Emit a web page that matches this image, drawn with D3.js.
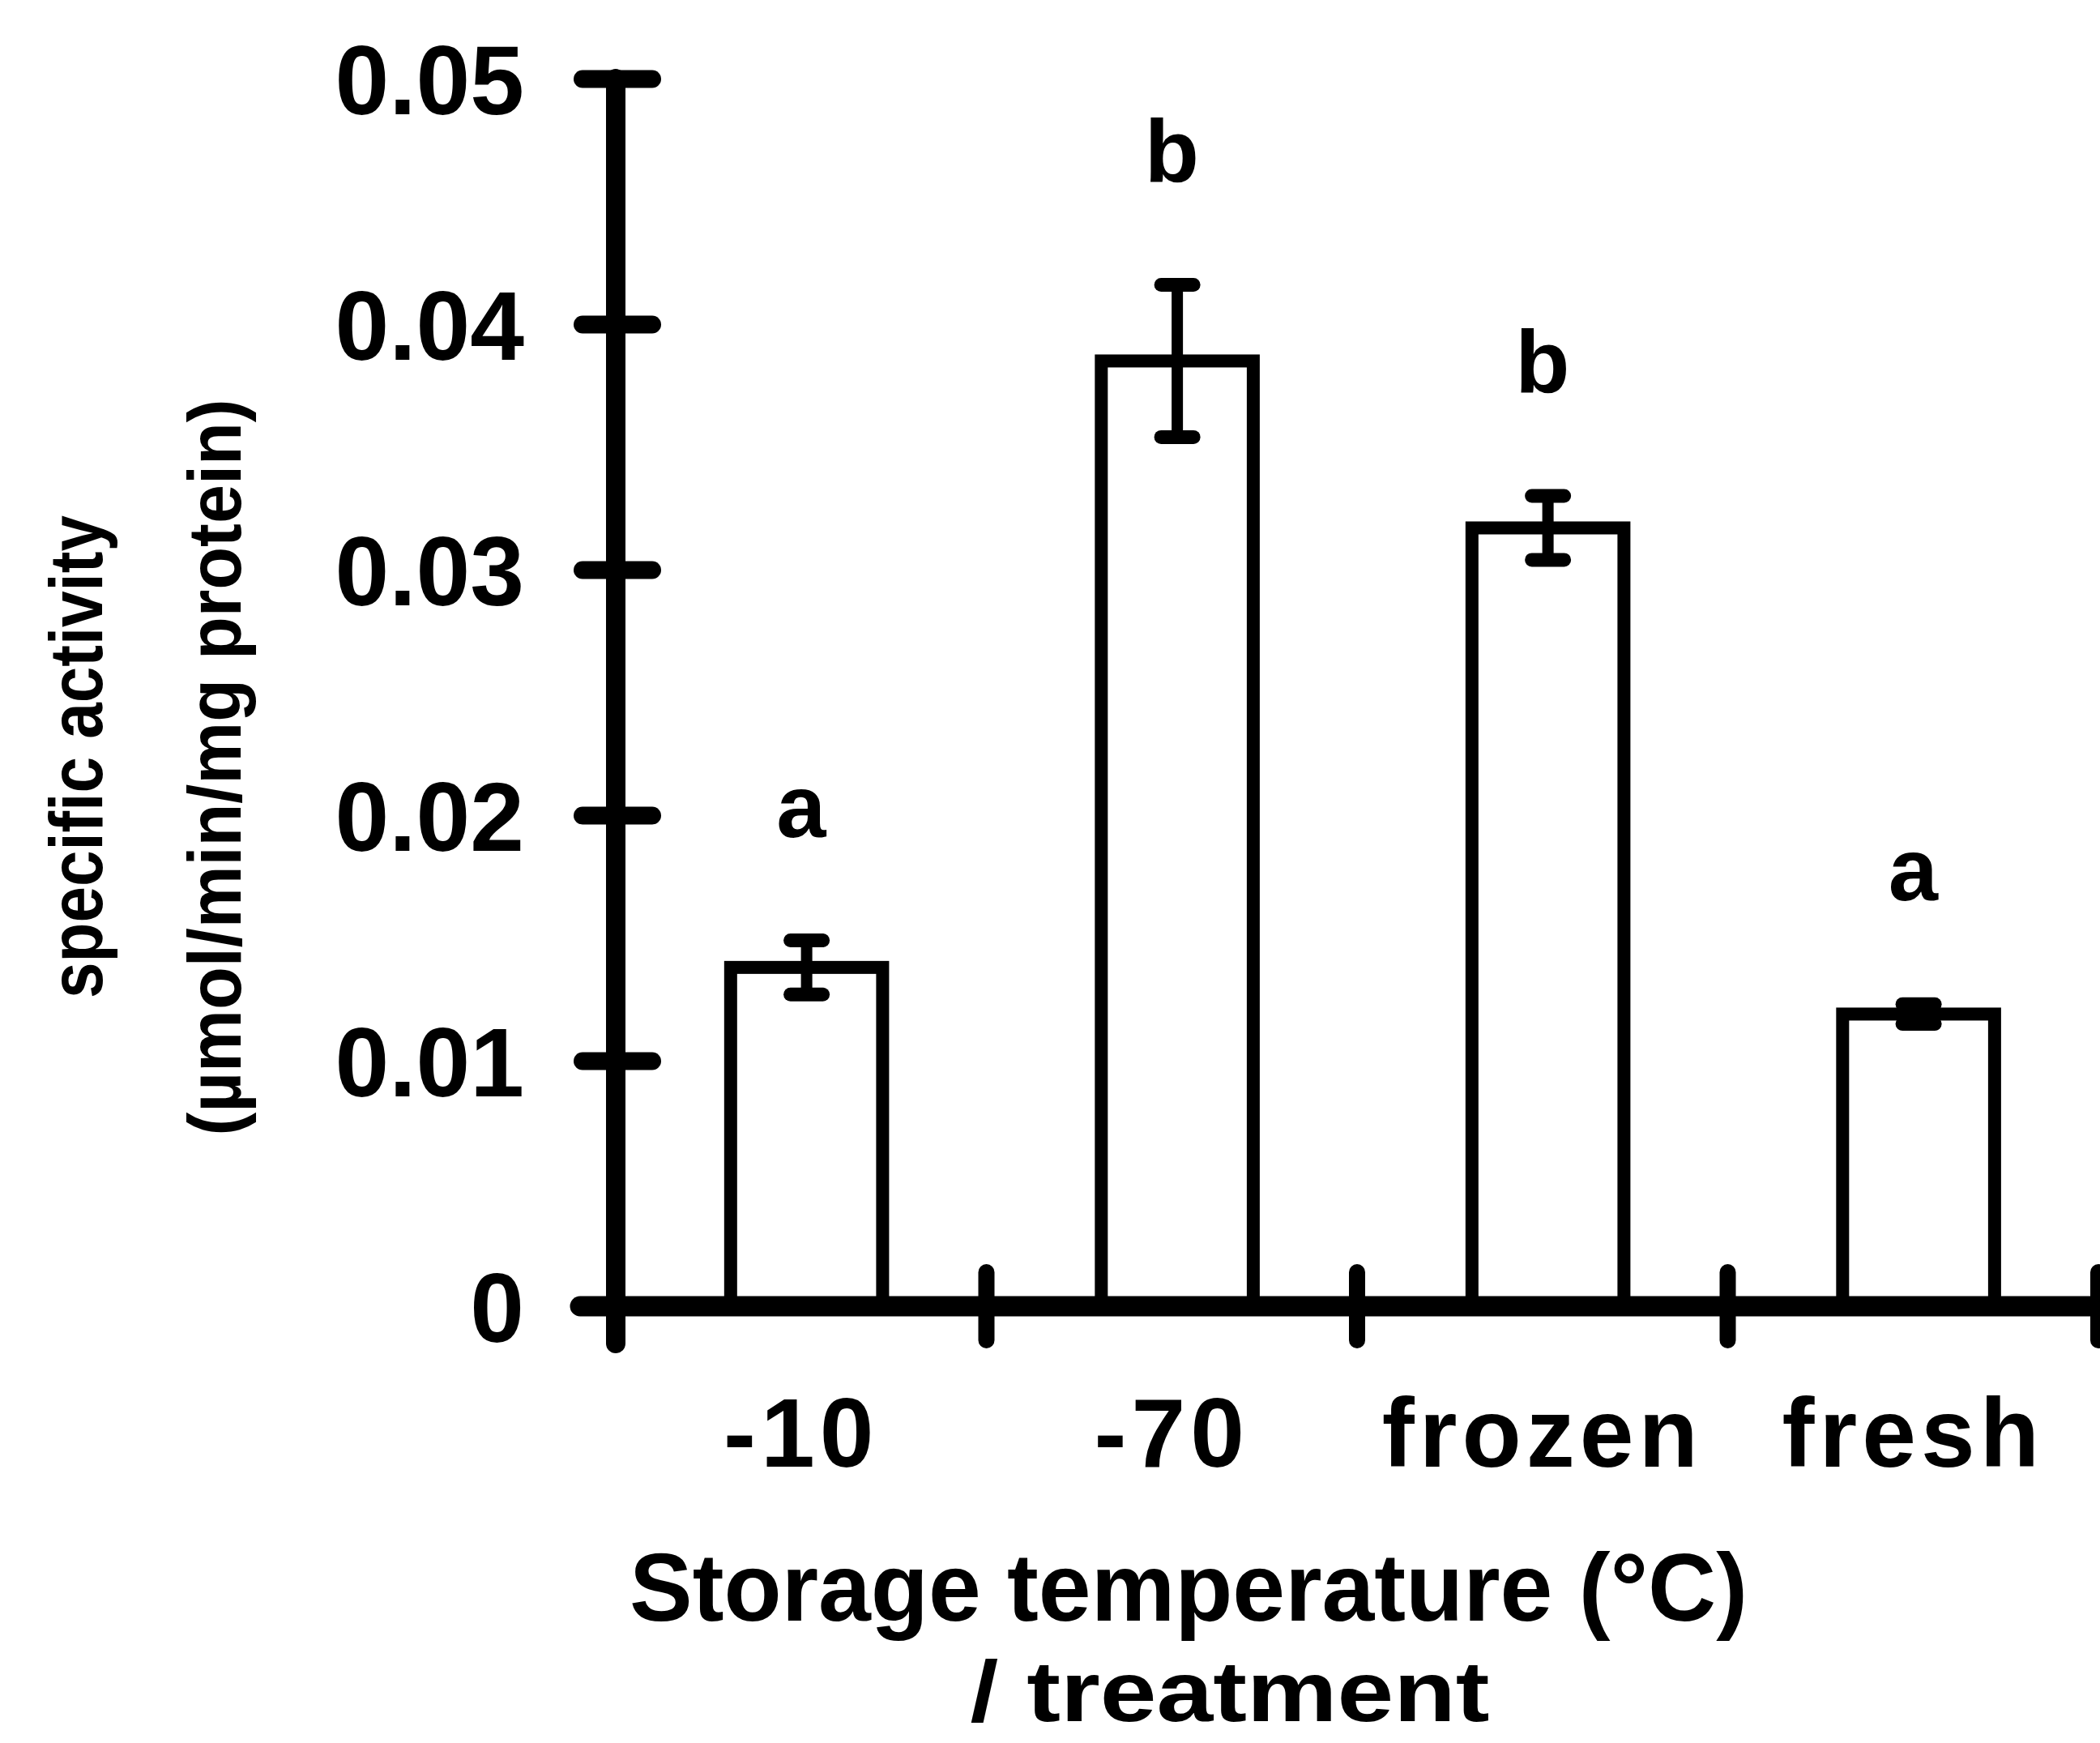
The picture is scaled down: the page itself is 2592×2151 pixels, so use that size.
<!DOCTYPE html>
<html>
<head>
<meta charset="utf-8">
<script src="https://cdn.jsdelivr.net/npm/d3@7"></script>
<style>
  html, body { margin: 0; padding: 0; background: #fff; }
  svg { display: block; }
  text { font-family: "Liberation Sans", Arial, Helvetica, sans-serif; fill: #000; }
</style>
</head>
<body>
<svg id="chart" width="2592" height="2151"></svg>
<script>
// Specific activity by storage temperature / treatment (mean ± SE)
const categories = ["-10", "-70", "frozen", "fresh"];
const activity = [0.0138, 0.0385, 0.0317, 0.0119];
const stdError = [0.0011, 0.0031, 0.0013, 0.0004];
const groupLetters = ["a", "b", "b", "a"];
const yTickValues = [0, 0.01, 0.02, 0.03, 0.04, 0.05];
const yTickLabels = ["0", "0.01", "0.02", "0.03", "0.04", "0.05"];

const svg = d3.select("#chart");
svg.append("rect").attr("width", 2592).attr("height", 2151).attr("fill", "#fff");

const x = d3.scaleBand().domain(categories).range([760, 2590]).padding(0);
const y = d3.scaleLinear().domain([0, 0.05]).range([1612, 97]);
const bw = x.bandwidth();
const barW = bw * 0.41;
const barCx = c => x(c) + bw * 0.515;

const rows = categories.map((c, i) => ({ c, v: activity[i], e: stdError[i], g: groupLetters[i] }));

// bars (open, heavy outline)
svg.append("g").selectAll("rect").data(rows).join("rect")
  .attr("x", d => barCx(d.c) - barW / 2)
  .attr("y", d => y(d.v))
  .attr("width", barW)
  .attr("height", d => y(0) - y(d.v))
  .attr("fill", "#fff")
  .attr("stroke", "#000")
  .attr("stroke-width", 16);

// error bars
const eb = svg.append("g").attr("stroke", "#000").attr("stroke-linecap", "round");
eb.selectAll("line.stem").data(rows).join("line").attr("class", "stem")
  .attr("x1", d => barCx(d.c)).attr("x2", d => barCx(d.c))
  .attr("y1", d => y(d.v + d.e)).attr("y2", d => y(d.v - d.e))
  .attr("stroke-width", 14);
eb.selectAll("line.capTop").data(rows).join("line").attr("class", "capTop")
  .attr("x1", d => barCx(d.c) - 20).attr("x2", d => barCx(d.c) + 20)
  .attr("y1", d => y(d.v + d.e)).attr("y2", d => y(d.v + d.e))
  .attr("stroke-width", 17);
eb.selectAll("line.capBot").data(rows).join("line").attr("class", "capBot")
  .attr("x1", d => barCx(d.c) - 20).attr("x2", d => barCx(d.c) + 20)
  .attr("y1", d => y(d.v - d.e)).attr("y2", d => y(d.v - d.e))
  .attr("stroke-width", 17);

// significance letters
svg.append("g").selectAll("text").data(rows).join("text")
  .attr("x", d => x(d.c) + bw / 2)
  .attr("y", d => y(d.v + d.e) - 128)
  .attr("text-anchor", "middle")
  .attr("font-size", 110)
  .attr("font-weight", "bold")
  .text(d => d.g);

// y axis
const yAxis = d3.axisLeft(y).tickValues(yTickValues)
  .tickFormat((d, i) => yTickLabels[i]).tickSize(0).tickPadding(0);
const gy = svg.append("g").attr("transform", `translate(${x.range()[0]},0)`).call(yAxis);
gy.select(".domain").remove();
gy.selectAll(".tick line")
  .attr("x1", -41).attr("x2", 45)
  .attr("stroke", "#000").attr("stroke-width", 22).attr("stroke-linecap", "round");
gy.selectAll(".tick text")
  .attr("x", -113).attr("dy", "0.36em")
  .attr("font-size", 120).attr("font-weight", "bold")
  .attr("font-family", null).attr("fill", "#000");
gy.append("line")
  .attr("x1", 0).attr("x2", 0)
  .attr("y1", y(0.05)).attr("y2", y(0) + 46)
  .attr("stroke", "#000").attr("stroke-width", 24).attr("stroke-linecap", "round");

// x axis
const xAxis = d3.axisBottom(x).tickSize(0).tickPadding(0);
const gx = svg.append("g").attr("transform", `translate(0,${y(0)})`).call(xAxis);
gx.select(".domain").remove();
gx.selectAll(".tick line").remove();
gx.selectAll(".tick text")
  .attr("y", 198).attr("dy", 0)
  .attr("font-size", 120).attr("font-weight", "bold")
  .attr("font-family", null).attr("fill", "#000")
  .attr("letter-spacing", 6);
gx.append("line")
  .attr("x1", x.range()[0] - 44).attr("x2", 2600)
  .attr("y1", 0).attr("y2", 0)
  .attr("stroke", "#000").attr("stroke-width", 25).attr("stroke-linecap", "round");
// boundary tick marks between categories
gx.selectAll("line.sep").data(categories.slice(1).concat(["end"])).join("line").attr("class", "sep")
  .attr("x1", d => d === "end" ? x.range()[1] : x(d))
  .attr("x2", d => d === "end" ? x.range()[1] : x(d))
  .attr("y1", -42).attr("y2", 42)
  .attr("stroke", "#000").attr("stroke-width", 20).attr("stroke-linecap", "round");

// axis titles
svg.append("text")
  .attr("x", 1467).attr("y", 2000)
  .attr("text-anchor", "middle")
  .attr("font-size", 118).attr("font-weight", "bold")
  .attr("textLength", 1380).attr("lengthAdjust", "spacingAndGlyphs")
  .text("Storage temperature (°C)");
svg.append("text")
  .attr("x", 1518).attr("y", 2124)
  .attr("text-anchor", "middle")
  .attr("font-size", 106).attr("font-weight", "bold")
  .attr("textLength", 641).attr("lengthAdjust", "spacingAndGlyphs")
  .text("/ treatment");

svg.append("text")
  .attr("transform", "translate(94,934) rotate(-90)")
  .attr("text-anchor", "middle").attr("dy", "0.35em")
  .attr("font-size", 92).attr("font-weight", "bold")
  .attr("textLength", 596).attr("lengthAdjust", "spacingAndGlyphs")
  .text("specific activity");
svg.append("text")
  .attr("transform", "translate(265,947) rotate(-90)")
  .attr("text-anchor", "middle").attr("dy", "0.35em")
  .attr("font-size", 92).attr("font-weight", "bold")
  .attr("textLength", 909).attr("lengthAdjust", "spacingAndGlyphs")
  .text("(µmol/min/mg protein)");
</script>
</body>
</html>
